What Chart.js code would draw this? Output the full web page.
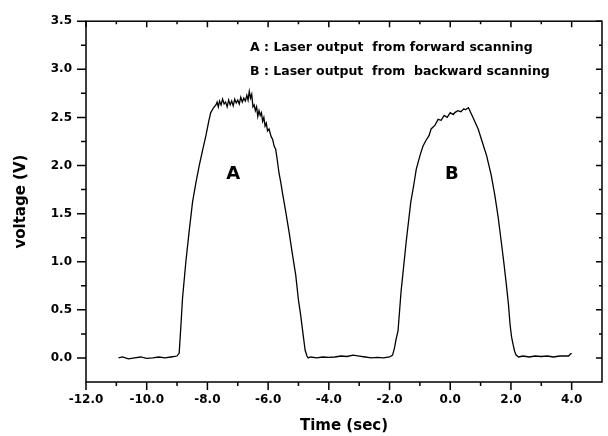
<!DOCTYPE html>
<html>
<head>
<meta charset="utf-8">
<script src="https://cdn.jsdelivr.net/npm/chart.js@4.4.1/dist/chart.umd.min.js"></script>
<style>
  body { margin: 0; background: #fff; }
  canvas { display: block; }
</style>
</head>
<body>
<canvas id="laserChart" width="608" height="436"></canvas>
<script>
// Trace, split by segment
const baseLeftTime = [-10.93, -10.8, -10.6, -10.4, -10.2, -10.0, -9.8, -9.6, -9.4, -9.2, -9.0, -8.93];
const baseLeftVolt = [0.0, 0.01, -0.01, 0.0, 0.01, -0.005, 0.0, 0.01, 0.0, 0.01, 0.02, 0.05];

const peakATime = [-8.88, -8.82, -8.71, -8.6, -8.49, -8.38, -8.27, -8.15, -8.05, -7.95, -7.89, -7.8, -7.72,
    -7.68, -7.64, -7.6, -7.55, -7.5, -7.45, -7.4, -7.35, -7.3, -7.25, -7.2, -7.15, -7.1, -7.05, -7.0,
    -6.95, -6.9, -6.85, -6.8, -6.75, -6.7, -6.66, -6.62, -6.58, -6.54, -6.5, -6.46, -6.42, -6.38, -6.34,
    -6.3, -6.26, -6.22, -6.18, -6.14, -6.1, -6.06, -6.02, -5.97, -5.9, -5.85, -5.8, -5.75, -5.7, -5.64,
    -5.58, -5.53, -5.42, -5.31, -5.2, -5.09, -5.0, -4.93, -4.85, -4.78, -4.72];
const peakAVolt = [0.3, 0.62, 1.0, 1.32, 1.62, 1.82, 2.0, 2.17, 2.31, 2.47, 2.55, 2.6, 2.63,
    2.66, 2.61, 2.67, 2.63, 2.69, 2.64, 2.66, 2.61, 2.68, 2.63, 2.67, 2.62, 2.69, 2.65, 2.68,
    2.64, 2.71, 2.66, 2.7, 2.67, 2.73, 2.68, 2.77, 2.7, 2.74, 2.61, 2.63, 2.57, 2.61, 2.51,
    2.57, 2.52, 2.55, 2.46, 2.5, 2.41, 2.44, 2.36, 2.38, 2.3, 2.27, 2.2, 2.17, 2.06, 1.92,
    1.82, 1.72, 1.52, 1.31, 1.08, 0.86, 0.6, 0.45, 0.25, 0.08, 0.02];

const baseMidTime = [-4.68, -4.6, -4.4, -4.2, -4.0, -3.8, -3.6, -3.4, -3.2, -3.0, -2.8, -2.6, -2.4, -2.2, -2.0, -1.9];
const baseMidVolt = [0.0, 0.01, 0.0, 0.01, 0.005, 0.01, 0.02, 0.015, 0.03, 0.02, 0.01, 0.0, 0.005, 0.0, 0.01, 0.03];

const peakBTime = [-1.84, -1.78, -1.72, -1.62, -1.45, -1.3, -1.2, -1.12, -1.0, -0.9, -0.8, -0.7, -0.63,
    -0.5, -0.4, -0.3, -0.2, -0.1, 0.0, 0.1, 0.15, 0.25, 0.35, 0.45, 0.5, 0.6, 0.75, 0.92,
    1.05, 1.2, 1.35, 1.47, 1.58, 1.68, 1.77, 1.85, 1.92, 1.97, 2.02, 2.07, 2.12, 2.17];
const peakBVolt = [0.1, 0.2, 0.28, 0.69, 1.21, 1.62, 1.8, 1.96, 2.1, 2.2, 2.26, 2.31, 2.38,
    2.42, 2.48, 2.47, 2.52, 2.5, 2.55, 2.53, 2.55, 2.57, 2.56, 2.59, 2.58, 2.6, 2.5, 2.38,
    2.25, 2.1, 1.9, 1.69, 1.46, 1.21, 0.98, 0.76, 0.55, 0.35, 0.22, 0.14, 0.07, 0.03];

const baseRightTime = [2.25, 2.4, 2.6, 2.8, 3.0, 3.2, 3.4, 3.6, 3.8, 3.9, 3.96, 4.0];
const baseRightVolt = [0.01, 0.02, 0.01, 0.02, 0.015, 0.02, 0.01, 0.02, 0.02, 0.02, 0.04, 0.05];

// Axis ticks
const xMajorTicks = [-12, -10, -8, -6, -4, -2, 0, 2, 4];
const xMinorTicks = [-11, -9, -7, -5, -3, -1, 1, 3];
const yMajorTicks = [0, 0.5, 1.0, 1.5, 2.0, 2.5, 3.0, 3.5];
const yMinorTicks = [0.25, 0.75, 1.25, 1.75, 2.25, 2.75, 3.25];

const legendLines = ['A : Laser output  from forward scanning', 'B : Laser output  from  backward scanning'];
const peakLabels = [{ text: 'A', x: -7.15, y: 1.91 }, { text: 'B', x: 0.05, y: 1.91 }];

const fontFamily = '"DejaVu Sans", sans-serif';

// Build one continuous trace
const timeAll = [...baseLeftTime, ...peakATime, ...baseMidTime, ...peakBTime, ...baseRightTime];
const voltAll = [...baseLeftVolt, ...peakAVolt, ...baseMidVolt, ...peakBVolt, ...baseRightVolt];
const tracePoints = timeAll.map((t, i) => ({ x: t, y: voltAll[i] }));

// Frame, inward/outward ticks and the text notes
const frameAndNotes = {
    id: 'frameAndNotes',
    afterDraw(chart) {
        const { ctx, chartArea: a, scales: { x, y } } = chart;
        ctx.save();
        ctx.strokeStyle = '#000';
        ctx.lineWidth = 1.5;
        ctx.strokeRect(a.left, a.top, a.right - a.left, a.bottom - a.top);

        ctx.beginPath();
        const xTick = (v, outLen, inLen) => {
            const px = x.getPixelForValue(v);
            ctx.moveTo(px, a.bottom); ctx.lineTo(px, a.bottom + outLen);
            ctx.moveTo(px, a.top); ctx.lineTo(px, a.top + inLen);
        };
        const yTick = (v, outLen, inLen) => {
            const py = y.getPixelForValue(v);
            ctx.moveTo(a.left, py); ctx.lineTo(a.left - outLen, py);
            ctx.moveTo(a.right, py); ctx.lineTo(a.right - inLen, py);
        };
        xMajorTicks.forEach(v => xTick(v, 8, 6));
        xMinorTicks.forEach(v => xTick(v, 4, 3));
        yMajorTicks.forEach(v => yTick(v, 9, 6));
        yMinorTicks.forEach(v => yTick(v, 5, 3));
        ctx.stroke();

        ctx.fillStyle = '#000';
        ctx.font = 'bold 12.5px ' + fontFamily;
        ctx.textAlign = 'left';
        ctx.textBaseline = 'middle';
        legendLines.forEach((line, i) => {
            ctx.fillText(line, a.left + 164, a.top + 27 + i * 24);
        });

        ctx.font = 'bold 18px ' + fontFamily;
        ctx.textAlign = 'center';
        peakLabels.forEach(p => {
            ctx.fillText(p.text, x.getPixelForValue(p.x), y.getPixelForValue(p.y));
        });
        ctx.restore();
    }
};

new Chart(document.getElementById('laserChart'), {
    type: 'line',
    data: {
        datasets: [{
            data: tracePoints,
            borderColor: '#000',
            borderWidth: 1.3,
            pointRadius: 0,
            tension: 0,
            fill: false
        }]
    },
    options: {
        responsive: false,
        animation: false,
        layout: { padding: { top: 18, right: 6, left: 0, bottom: 0 } },
        plugins: { legend: { display: false }, tooltip: { enabled: false } },
        scales: {
            x: {
                type: 'linear',
                min: -12,
                max: 5,
                afterBuildTicks: s => { s.ticks = xMajorTicks.map(value => ({ value })); },
                afterFit: s => { s.height = 54; },
                grid: { display: false, drawTicks: false },
                border: { display: false },
                ticks: {
                    color: '#000',
                    padding: 11,
                    maxRotation: 0,
                    font: { family: fontFamily, size: 12, weight: 'bold' },
                    callback: v => v.toFixed(1)
                },
                title: {
                    display: true,
                    text: 'Time (sec)',
                    color: '#000',
                    font: { family: fontFamily, size: 15, weight: 'bold' },
                    padding: { top: 0, bottom: 1 }
                }
            },
            y: {
                type: 'linear',
                min: -0.25,
                max: 3.5,
                afterBuildTicks: s => { s.ticks = yMajorTicks.map(value => ({ value })); },
                afterFit: s => { s.width = 86; },
                grid: { display: false, drawTicks: false },
                border: { display: false },
                ticks: {
                    color: '#000',
                    padding: 14,
                    font: { family: fontFamily, size: 12, weight: 'bold' },
                    callback: v => v.toFixed(1)
                },
                title: {
                    display: true,
                    text: 'voltage (V)',
                    color: '#000',
                    font: { family: fontFamily, size: 15, weight: 'bold' },
                    padding: { top: 12, bottom: 0 }
                }
            }
        }
    },
    plugins: [frameAndNotes]
});
</script>
</body>
</html>
